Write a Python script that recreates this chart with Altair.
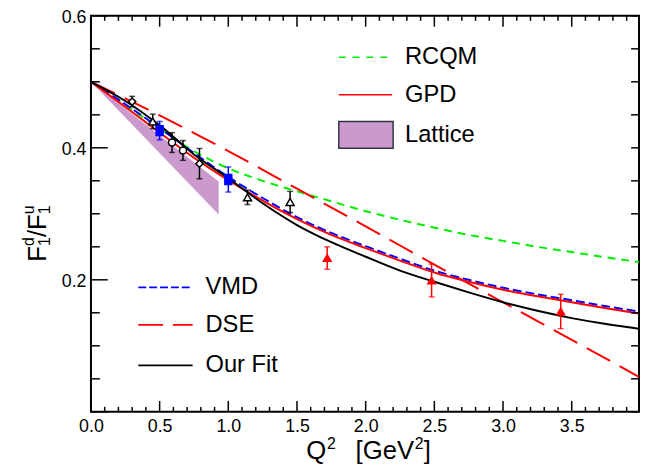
import altair as alt
import pandas as pd

# ---------------- data ----------------
q_grid = [0.0, 0.25, 0.5, 0.75, 1.0, 1.25, 1.5, 1.75, 2.0, 2.25, 2.5, 2.75, 3.0, 3.25, 3.5, 3.75, 3.99]
rcqm = [0.500, 0.465, 0.429, 0.395, 0.369, 0.350, 0.334, 0.319, 0.304, 0.291, 0.279, 0.268, 0.259, 0.250, 0.242, 0.234, 0.227]
gpd = [0.500, 0.462, 0.423, 0.385, 0.351, 0.320, 0.292, 0.268, 0.248, 0.229, 0.211, 0.197, 0.185, 0.175, 0.166, 0.157, 0.149]
vmd = [0.500, 0.466, 0.430, 0.392, 0.356, 0.324, 0.295, 0.271, 0.251, 0.232, 0.214, 0.200, 0.188, 0.178, 0.169, 0.160, 0.152]
fit = [0.500, 0.471, 0.434, 0.390, 0.354, 0.316, 0.283, 0.257, 0.235, 0.214, 0.197, 0.181, 0.166, 0.153, 0.142, 0.133, 0.126]
dse_q = [0.0, 0.5, 1.0, 1.5, 2.0, 2.5, 3.0, 3.5, 3.99]
dse = [0.500, 0.449, 0.395, 0.338, 0.281, 0.223, 0.166, 0.109, 0.053]

lat_q = [0.0, 0.93]
lat_hi = [0.500, 0.349]
lat_lo = [0.500, 0.299]

diam_q = [0.30, 0.79]
diam_v = [0.470, 0.376]
diam_e = [0.008, 0.023]
circ_q = [0.59, 0.67]
circ_v = [0.408, 0.396]
circ_e = [0.015, 0.015]
otri_q = [0.45, 1.14, 1.45]
otri_v = [0.440, 0.325, 0.318]
otri_e = [0.011, 0.011, 0.016]
bsq_q = [0.50, 1.00]
bsq_v = [0.426, 0.352]
bsq_e = [0.014, 0.019]
rtri_q = [1.72, 2.48, 3.42]
rtri_v = [0.233, 0.199, 0.152]
rtri_e = [0.017, 0.025, 0.026]

x_major = [0.0, 0.5, 1.0, 1.5, 2.0, 2.5, 3.0, 3.5]
x_minor = [0.1, 0.2, 0.3, 0.4, 0.6, 0.7, 0.8, 0.9, 1.1, 1.2, 1.3, 1.4, 1.6, 1.7, 1.8, 1.9,
           2.1, 2.2, 2.3, 2.4, 2.6, 2.7, 2.8, 2.9, 3.1, 3.2, 3.3, 3.4, 3.6, 3.7, 3.8, 3.9]
y_major = [0.0, 0.2, 0.4, 0.6]
y_labels = [0.2, 0.4, 0.6]
y_minor = [0.05, 0.1, 0.15, 0.25, 0.3, 0.35, 0.45, 0.5, 0.55]

legend_top = ["RCQM", "GPD", "Lattice"]
legend_bottom = ["VMD", "DSE", "Our Fit"]

# ---------------- layout ----------------
W, H = 555, 401
FONT = "Liberation Sans"
xs = alt.Scale(domain=[0, 3.99], nice=False, zero=False)
ys = alt.Scale(domain=[0, 0.6], nice=False, zero=False)
x_axis = alt.Axis(values=x_major, format=".1f", title=None, labelFlush=False)
y_axis = alt.Axis(values=y_labels, format=".1f", title=None, labelFlush=False)


def X(field="q"):
    return alt.X(f"{field}:Q", scale=xs, axis=x_axis)


def Y(field="v"):
    return alt.Y(f"{field}:Q", scale=ys, axis=y_axis)


layers = []

# lattice band
lat_df = pd.DataFrame({"q": lat_q, "hi": lat_hi, "lo": lat_lo})
layers.append(
    alt.Chart(lat_df).mark_area(color="#CC99CC", opacity=1).encode(
        x=X("q"), y=Y("hi"), y2="lo:Q")
)


def curve(qs, vs, color, dash=None, width=2.0):
    df = pd.DataFrame({"q": qs, "v": vs})
    kw = dict(color=color, strokeWidth=width, interpolate="monotone", clip=True)
    if dash:
        kw["strokeDash"] = dash
    return alt.Chart(df).mark_line(**kw).encode(x=X(), y=Y())


layers.append(curve(q_grid, rcqm, "#00EE00", [8, 6]))
layers.append(curve(dse_q, dse, "#FF0000", [27, 11]))
layers.append(curve(q_grid, vmd, "#0000FF", [9, 4]))
layers.append(curve(q_grid, gpd, "#FF0000"))
layers.append(curve(q_grid, fit, "#000000"))

RECT = "M-0.7,-1L0.7,-1L0.7,1L-0.7,1Z"


def points(qs, vs, es, shape, color, fill, size):
    df = pd.DataFrame({"q": qs, "v": vs,
                       "lo": [a - b for a, b in zip(vs, es)],
                       "hi": [a + b for a, b in zip(vs, es)]})
    bar = alt.Chart(df).mark_rule(color=color, strokeWidth=1.5).encode(
        x=X(), y=Y("lo"), y2="hi:Q")
    cap1 = alt.Chart(df).mark_tick(color=color, orient="horizontal", size=6, thickness=1.5).encode(
        x=X(), y=Y("lo"))
    cap2 = alt.Chart(df).mark_tick(color=color, orient="horizontal", size=6, thickness=1.5).encode(
        x=X(), y=Y("hi"))
    pt = alt.Chart(df).mark_point(shape=shape, filled=True, fill=fill, stroke=color,
                                  strokeWidth=1.5, size=size, opacity=1).encode(x=X(), y=Y())
    return [bar, cap1, cap2, pt]


layers += points(diam_q, diam_v, diam_e, "diamond", "black", "white", 55)
layers += points(circ_q, circ_v, circ_e, "circle", "black", "white", 50)
layers += points(otri_q, otri_v, otri_e, "triangle-up", "black", "white", 65)
layers += points(bsq_q, bsq_v, bsq_e, RECT, "#0000FF", "#0000FF", 100)
layers += points(rtri_q, rtri_v, rtri_e, "triangle-up", "#FF0000", "#FF0000", 60)


# inward ticks
def xticks(vals, length, top):
    df = pd.DataFrame({"q": vals})
    if top:
        enc = dict(y=alt.value(0), y2=alt.value(length))
    else:
        enc = dict(y=alt.value(H), y2=alt.value(H - length))
    return alt.Chart(df).mark_rule(color="black", strokeWidth=1.5).encode(x=X(), **enc)


def yticks(vals, length, right):
    df = pd.DataFrame({"v": vals})
    if right:
        enc = dict(x=alt.value(W), x2=alt.value(W - length))
    else:
        enc = dict(x=alt.value(0), x2=alt.value(length))
    return alt.Chart(df).mark_rule(color="black", strokeWidth=1.5).encode(y=Y(), **enc)


layers += [xticks(x_major, 11, False), xticks(x_minor, 5, False),
           xticks(x_major, 11, True), xticks(x_minor, 5, True),
           yticks(y_major, 17, False), yticks(y_minor, 9, False),
           yticks(y_major, 8, True), yticks(y_minor, 8, True)]

# legends
one = pd.DataFrame({"a": [0]})


def leg_line(x0, x1, y, color, dash=None):
    kw = dict(color=color, strokeWidth=1.6)
    if dash:
        kw["strokeDash"] = dash
    return alt.Chart(one).mark_rule(**kw).encode(x=alt.value(x0), x2=alt.value(x1), y=alt.value(y))


def txt(x, y, s, size=24, align="left", baseline="middle", angle=0):
    kw = dict(align=align, baseline=baseline, fontSize=size, font=FONT, color="black")
    if angle:
        kw["angle"] = angle
    return alt.Chart(pd.DataFrame({"t": [s]})).mark_text(**kw).encode(
        x=alt.value(x), y=alt.value(y), text="t:N")


layers.append(leg_line(251, 305, 42, "#00EE00", [7, 7]))
layers.append(txt(318, 42, legend_top[0]))
layers.append(leg_line(251, 305, 80, "#FF0000"))
layers.append(txt(318, 80, legend_top[1]))
layers.append(alt.Chart(one).mark_rect(fill="#CC99CC", stroke="#333344", strokeWidth=1.5).encode(
    x=alt.value(251), x2=alt.value(306), y=alt.value(107), y2=alt.value(134)))
layers.append(txt(318, 121, legend_top[2]))

layers.append(leg_line(48, 103, 275, "#0000FF", [8, 3]))
layers.append(txt(116, 275, legend_bottom[0]))
layers.append(leg_line(48, 103, 313, "#FF0000", [25, 10]))
layers.append(txt(116, 313, legend_bottom[1]))
layers.append(leg_line(48, 103, 354, "#000000"))
layers.append(txt(116, 354, legend_bottom[2]))

# y-axis title F1d/F1u built from pieces (rotated)
y_title = [("F", 26, -46, 249), ("d", 16, -58, 233), ("1", 16, -41, 233),
           ("/", 26, -46, 224), ("F", 26, -46, 217), ("u", 16, -58, 201), ("1", 16, -41, 201)]
for s, fs, px, py in y_title:
    layers.append(txt(px, py, s, size=fs, baseline="alphabetic", angle=270))

# x-axis title Q^2 [GeV^2] built from pieces
x_title = [("Q", 26, 218, 449), ("2", 16, 239, 439), ("[GeV", 26, 268, 449),
           ("2", 16, 328, 439), ("]", 26, 337, 449)]
for s, fs, px, py in x_title:
    layers.append(txt(px, py, s, size=fs, baseline="alphabetic"))

chart = alt.layer(*layers).properties(
    width=W, height=H,
    autosize=alt.AutoSizeParams(type="none"),
    padding={"left": 84, "top": 5, "right": 1, "bottom": 56},
).configure_view(stroke="black", strokeWidth=2).configure_axis(
    grid=False, domain=False, ticks=False, tickSize=0,
    labelFont=FONT, labelFontSize=18, labelColor="black",
).configure_axisX(labelPadding=6).configure_axisY(labelPadding=5, labelOffset=2)

chart.save("out.html", embed_options={"renderer": "svg", "actions": False})
